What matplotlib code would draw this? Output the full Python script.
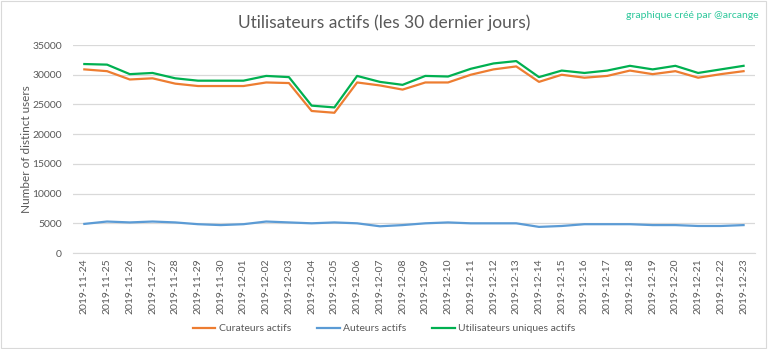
import matplotlib
matplotlib.use("Agg")
import matplotlib.pyplot as plt
from matplotlib.patches import Rectangle
import pandas as pd

dates = pd.date_range("2019-11-24", "2019-12-23").strftime("%Y-%m-%d").tolist()

curateurs = [30900, 30600, 29200, 29400, 28500, 28100, 28100, 28100, 28700, 28600,
             23900, 23600, 28700, 28200, 27500, 28700, 28700, 30000, 30900, 31400,
             28800, 30000, 29500, 29800, 30700, 30100, 30600, 29500, 30100, 30600]
auteurs = [4900, 5300, 5150, 5300, 5150, 4850, 4700, 4850, 5300, 5150,
           5000, 5150, 5000, 4500, 4700, 5000, 5150, 5000, 5000, 5000,
           4400, 4550, 4850, 4850, 4850, 4700, 4700, 4550, 4550, 4700]
uniques = [31800, 31700, 30100, 30300, 29400, 29000, 29000, 29000, 29800, 29600,
           24800, 24500, 29800, 28800, 28300, 29800, 29700, 31000, 31900, 32300,
           29600, 30700, 30300, 30700, 31500, 30900, 31500, 30300, 30900, 31500]

plt.rcParams["font.family"] = ["Lato", "DejaVu Sans"]
txt = "#595959"

fig = plt.figure(figsize=(7.68, 3.49), dpi=100)
ax = fig.add_axes([0.095, 0.275, 0.888, 0.596])

x = range(len(dates))
ax.plot(x, curateurs, color="#ED7D31", lw=1.6, label="Curateurs actifs")
ax.plot(x, auteurs, color="#5B9BD5", lw=1.6, label="Auteurs actifs")
ax.plot(x, uniques, color="#00B050", lw=1.6, label="Utilisateurs uniques actifs")

ax.set_xlim(-0.5, len(dates) - 0.5)
ax.set_ylim(0, 35000)
ax.set_yticks(range(0, 35001, 5000))
ax.set_xticks(list(x))
ax.set_xticklabels(dates, rotation=90, fontsize=7.5, color=txt)
ax.tick_params(axis="y", labelsize=7.5, colors=txt, length=0, pad=8)
ax.tick_params(axis="x", length=0, pad=4)
ax.grid(axis="y", color="#D9D9D9", lw=0.9)
ax.set_axisbelow(True)
for s in ["top", "right", "left"]:
    ax.spines[s].set_visible(False)
ax.spines["bottom"].set_color("#D9D9D9")

ax.set_ylabel("Number of distinct users", fontsize=8.5, color=txt, labelpad=0)

fig.text(0.5, 0.935, "Utilisateurs actifs (les 30 dernier jours)", ha="center",
         va="center", fontsize=12.5, color=txt)
fig.text(0.988, 0.955, "graphique créé par @arcange", ha="right", va="center",
         fontsize=7.5, color="#2BC79A")

fig.legend(loc="center", bbox_to_anchor=(0.5, 0.058), ncol=3, frameon=False,
           fontsize=7.5, labelcolor=txt, handlelength=2.2, handletextpad=0.3,
           columnspacing=2.5)

fig.patches.append(Rectangle((0.001, 0.002), 0.997, 0.995, transform=fig.transFigure,
                             fill=False, edgecolor="#D9D9D9", lw=0.8))

fig.savefig("out.png", dpi=100)
